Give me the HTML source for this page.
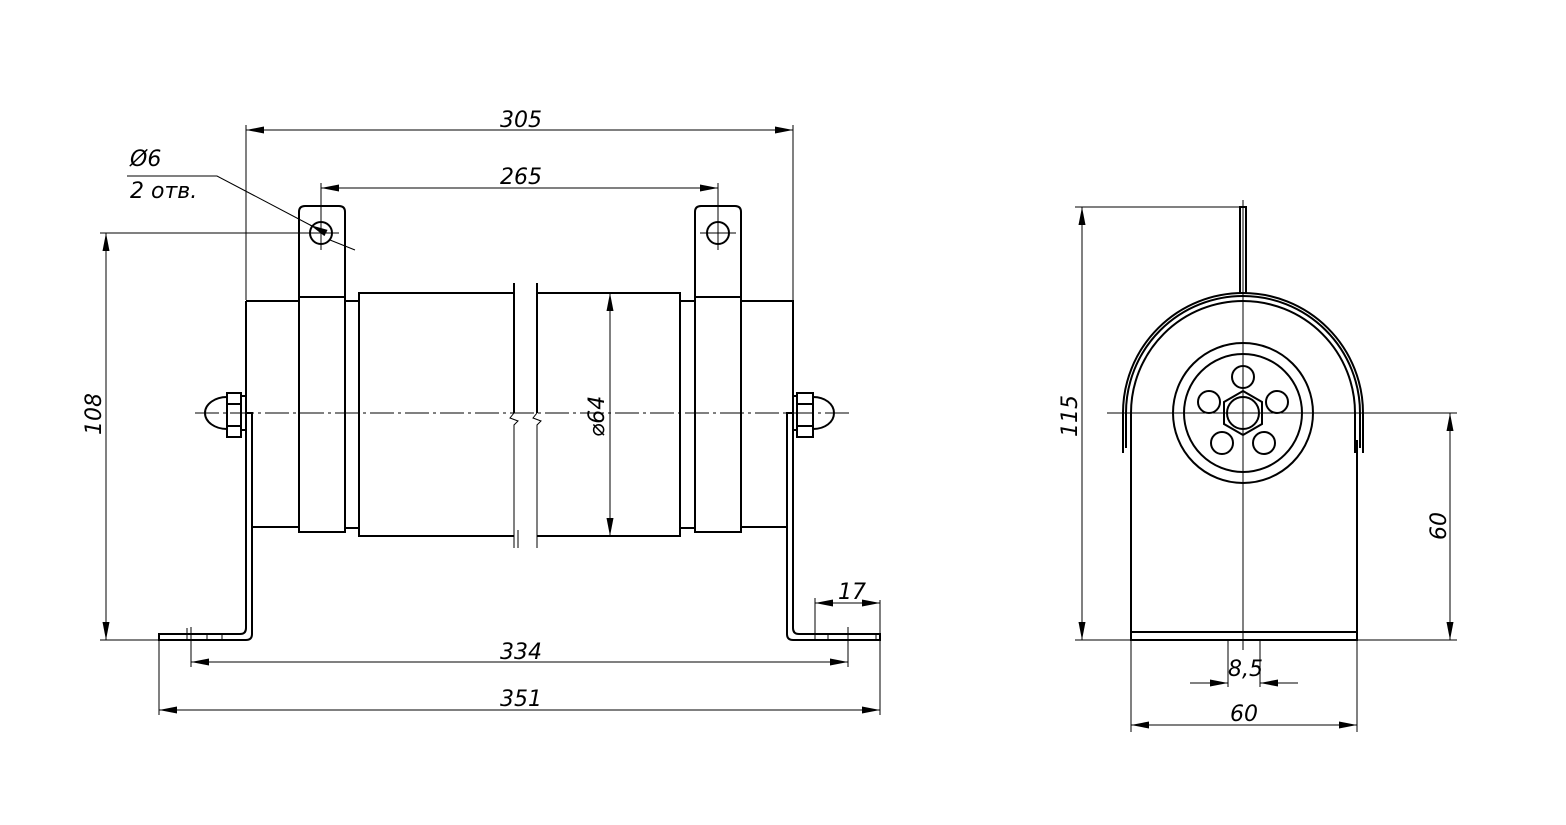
<!DOCTYPE html>
<html><head><meta charset="utf-8"><style>
html,body{margin:0;padding:0;background:#fff;}
svg{display:block}
text{font-family:"DejaVu Sans","Liberation Sans",sans-serif;font-style:italic;font-size:22px;fill:#000}
</style></head><body>
<svg width="1566" height="825" viewBox="0 0 1566 825" xmlns="http://www.w3.org/2000/svg">
<defs>
<marker id="a" viewBox="0 0 18 7" refX="18" refY="3.5" markerWidth="18" markerHeight="7" markerUnits="userSpaceOnUse" orient="auto-start-reverse"><path d="M0,0 L18,3.5 L0,7 z" fill="#000"/></marker>
</defs>
<g fill="none" stroke="#000" stroke-width="1">
<line x1="195" y1="413" x2="850" y2="413" stroke-dasharray="24,4,3,4"/>
<line x1="246" y1="125" x2="246" y2="300"/><line x1="793" y1="125" x2="793" y2="300"/>
<line x1="246" y1="130" x2="793" y2="130" marker-start="url(#a)" marker-end="url(#a)"/>
<line x1="321" y1="183" x2="321" y2="250"/><line x1="718" y1="183" x2="718" y2="250"/>
<line x1="321" y1="188" x2="718" y2="188" marker-start="url(#a)" marker-end="url(#a)"/>
<line x1="303" y1="233" x2="339" y2="233"/><line x1="700" y1="233" x2="736" y2="233"/>
<line x1="100" y1="233" x2="321" y2="233"/>
<line x1="100" y1="640" x2="159" y2="640"/>
<line x1="106" y1="233" x2="106" y2="640" marker-start="url(#a)" marker-end="url(#a)"/>
<polyline points="127,176 217,176 312,226"/>
<line x1="330" y1="240" x2="355" y2="250"/>
<line x1="312" y1="226" x2="310" y2="225" marker-end="url(#a)"/>
<line x1="191" y1="627" x2="191" y2="667"/><line x1="848" y1="627" x2="848" y2="667"/>
<line x1="191" y1="662" x2="848" y2="662" marker-start="url(#a)" marker-end="url(#a)"/>
<line x1="159" y1="640" x2="159" y2="715"/><line x1="880" y1="600" x2="880" y2="715"/>
<line x1="159" y1="710" x2="880" y2="710" marker-start="url(#a)" marker-end="url(#a)"/>
<line x1="815" y1="598" x2="815" y2="640"/>
<line x1="815" y1="603" x2="880" y2="603" marker-start="url(#a)" marker-end="url(#a)"/>
<line x1="610" y1="293" x2="610" y2="536" marker-start="url(#a)" marker-end="url(#a)"/>
<line x1="518" y1="530" x2="518" y2="548"/><line x1="537" y1="530" x2="537" y2="548"/>
</g>
<g fill="none" stroke="#000" stroke-width="2">
<path d="M246,301 H299 M246,301 V413 M252,527 H299"/>
<path d="M299,297 V212 Q299,206 305,206 H339 Q345,206 345,212 V297"/>
<rect x="299" y="297" width="46" height="235"/>
<circle cx="321" cy="233" r="11"/>
<rect x="345" y="301" width="14" height="227"/>
<path d="M514,293 H359 V536 H514 M537,293 H680 V536 H537"/>
<path d="M514,283 V413 M537,283 V413" />
<rect x="680" y="301" width="15" height="227"/>
<path d="M695,297 V212 Q695,206 701,206 H735 Q741,206 741,212 V297"/>
<rect x="695" y="297" width="46" height="235"/>
<circle cx="718" cy="233" r="11"/>
<path d="M741,301 H793 V413 M787,527 H741"/>
<path d="M246,413 H252 V634 Q252,640 246,640 H159 V634 H240 Q246,634 246,628 V413"/>
<path d="M793,413 H787 V634 Q787,640 793,640 H880 V634 H799 Q793,634 793,628 V413"/>
<rect x="241" y="396" width="5" height="34"/>
<rect x="227" y="393" width="14" height="44"/><line x1="227" y1="404" x2="241" y2="404"/><line x1="227" y1="426" x2="241" y2="426"/>
<path d="M227,397 C215,397 205,404 205,413 C205,422 215,429 227,429"/>
<rect x="793" y="396" width="4" height="34"/>
<rect x="797" y="393" width="16" height="44"/><line x1="797" y1="404" x2="813" y2="404"/><line x1="797" y1="426" x2="813" y2="426"/>
<path d="M813,397 C825,397 834,404 834,413 C834,422 825,429 813,429"/>
</g>
<g fill="none" stroke="#000" stroke-width="1">
<path d="M514,413 l-4,5 l8,3 l-4,4 V548 M537,413 l-4,5 l8,3 l-4,4 V548"/>
<line x1="187" y1="628" x2="187" y2="640"/><line x1="207" y1="634" x2="207" y2="640"/><line x1="222" y1="634" x2="222" y2="640"/>
<line x1="828" y1="634" x2="828" y2="640"/><line x1="848" y1="634" x2="848" y2="640"/><line x1="876" y1="634" x2="876" y2="640"/>
</g>
<text x="500" y="127">305</text>
<text x="500" y="184">265</text>
<text x="130" y="166" font-size="24">Ø6</text>
<text x="130" y="198">2 отв.</text>
<text x="500" y="659">334</text>
<text x="500" y="706">351</text>
<text x="838" y="599">17</text>
<text transform="translate(101,435) rotate(-90)">108</text>
<text transform="translate(604,437) rotate(-90)">⌀64</text>

<g fill="none" stroke="#000" stroke-width="1">
<line x1="1107" y1="413" x2="1380" y2="413"/>
<line x1="1243" y1="200" x2="1243" y2="650"/>
<line x1="1075" y1="207" x2="1240" y2="207"/>
<line x1="1075" y1="640" x2="1131" y2="640"/>
<line x1="1082" y1="207" x2="1082" y2="640" marker-start="url(#a)" marker-end="url(#a)"/>
<line x1="1363" y1="413" x2="1457" y2="413"/>
<line x1="1357" y1="640" x2="1457" y2="640"/>
<line x1="1450" y1="413" x2="1450" y2="640" marker-start="url(#a)" marker-end="url(#a)"/>
<line x1="1131" y1="640" x2="1131" y2="732"/><line x1="1357" y1="640" x2="1357" y2="732"/>
<line x1="1131" y1="725" x2="1357" y2="725" marker-start="url(#a)" marker-end="url(#a)"/>
<line x1="1228" y1="640" x2="1228" y2="687"/><line x1="1260" y1="640" x2="1260" y2="687"/>
<line x1="1190" y1="683" x2="1228" y2="683" marker-end="url(#a)"/>
<line x1="1298" y1="683" x2="1260" y2="683" marker-end="url(#a)"/>
</g>
<g fill="none" stroke="#000" stroke-width="2">
<path d="M1240,293 V207 H1246 V293"/>
<path d="M1123,453 V413 A120,120 0 0 1 1363,413 V453"/>
<path d="M1126,448 V413 A117,117 0 0 1 1360,413 V448"/>
<path d="M1131,453 V413 A112,112 0 0 1 1355,413 V453"/>
<path d="M1131,440 V640 H1357 V440"/>
<line x1="1131" y1="632" x2="1357" y2="632"/>
<circle cx="1243" cy="413" r="70"/>
<circle cx="1243" cy="413" r="59"/>
<circle cx="1243" cy="377" r="11"/>
<circle cx="1209" cy="402" r="11"/>
<circle cx="1277" cy="402" r="11"/>
<circle cx="1222" cy="443" r="11"/>
<circle cx="1264" cy="443" r="11"/>
<polygon points="1243,391 1262,402 1262,424 1243,435 1224,424 1224,402"/>
<circle cx="1243" cy="413" r="16"/>
</g>
<text transform="translate(1077,437) rotate(-90)">115</text>
<text transform="translate(1446,540) rotate(-90)">60</text>
<text x="1228" y="676">8,5</text>
<text x="1230" y="721">60</text>
</svg>
</body></html>
